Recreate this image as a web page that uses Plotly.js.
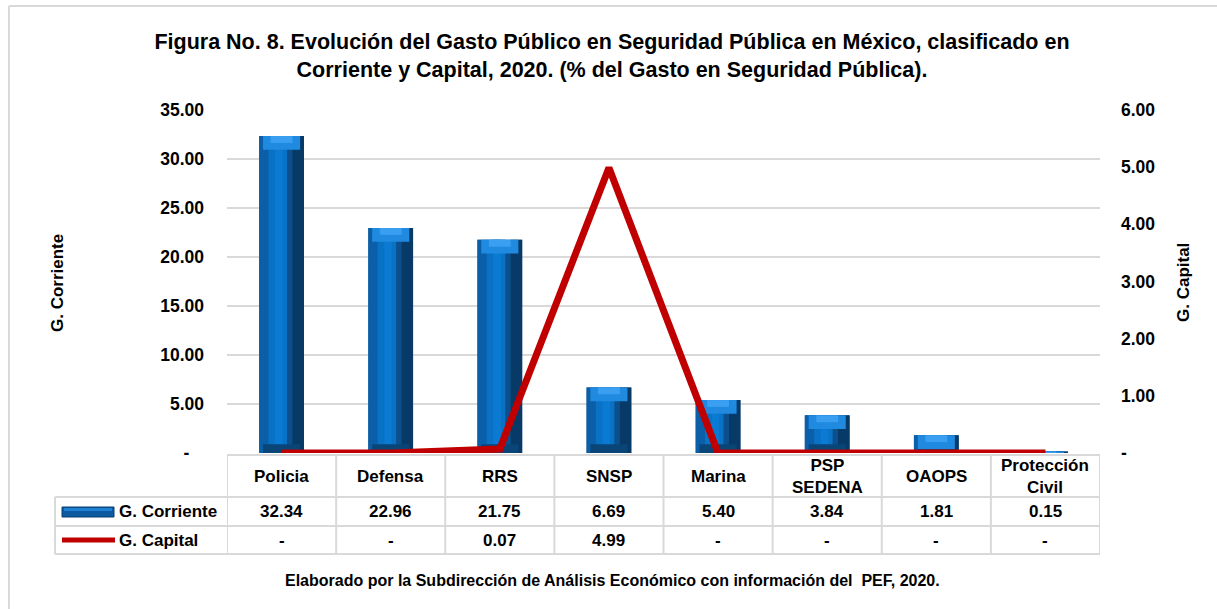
<!DOCTYPE html>
<html>
<head>
<meta charset="utf-8">
<script src="https://cdn.plot.ly/plotly-3.0.1.min.js"></script>
<style>html,body{margin:0;padding:0;background:#fff;}#chart{width:1217px;height:609px;}</style>
</head>
<body>
<div id="chart"></div>
<script>
// ---- Data ----
var categories = ["Policia", "Defensa", "RRS", "SNSP", "Marina", "PSP SEDENA", "OAOPS", "Protección Civil"];
var categoryLabels = ["Policia", "Defensa", "RRS", "SNSP", "Marina", "PSP<br>SEDENA", "OAOPS", "Protección<br>Civil"];
var gCorriente = [32.34, 22.96, 21.75, 6.69, 5.40, 3.84, 1.81, 0.15];
var gCapital = [0, 0, 0.07, 4.99, 0, 0, 0, 0];
var leftTickVals = [0, 5, 10, 15, 20, 25, 30, 35];
var leftTickText = ["-\u00a0\u00a0\u00a0", "5.00", "10.00", "15.00", "20.00", "25.00", "30.00", "35.00"];
var rightTickVals = [0, 1, 2, 3, 4, 5, 6];
var rightTickText = ["-", "1.00", "2.00", "3.00", "4.00", "5.00", "6.00"];

// ---- Layout helpers (pixel -> paper) ----
var L = 227, R = 1100, T = 110, B = 453, W = 1217, H = 609;
function px(x) { return (x - L) / (R - L); }
function py(y) { return (B - y) / (B - T); }
var FONT = "Liberation Sans, Arial, sans-serif";
var grid = "#d9d9d9";

function fmt(v) { return v === 0 ? "-" : v.toFixed(2); }

var bw = 0.41, half = bw / 2;
var traces = [];
function barLayer(color, offset, width, base, vals) {
  var t = {type: "bar", x: categories, y: vals, offset: offset, width: width,
    marker: {color: color, line: {width: 0}}, hoverinfo: "skip", showlegend: false};
  if (base) t.base = base;
  return t;
}
traces.push(barLayer("#0c4f8c", -half, bw, null, gCorriente));
traces.push(barLayer("#0b5fa8", -half, 0.09, null, gCorriente));
traces.push(barLayer("#0a72c4", -0.12, 0.17, null, gCorriente));
traces.push(barLayer("#0a7ad2", -0.06, 0.07, null, gCorriente));
traces.push(barLayer("#073a66", 0.10, 0.105, null, gCorriente));
// bottom shade
var bot = gCorriente.map(function (v) { return Math.min(v, 0.9); });
traces.push(barLayer("#0a4577", -0.17, 0.34, null, bot));
// top bevel highlight
var bev = gCorriente.map(function (v) { return Math.min(v, 1.4); });
var bevBase = gCorriente.map(function (v, i) { return v - bev[i]; });
traces.push(barLayer("#1f8ae0", -0.17, 0.34, bevBase, bev));
var bev2 = gCorriente.map(function (v) { return Math.min(v, 0.7); });
var bev2Base = gCorriente.map(function (v, i) { return v - bev2[i]; });
traces.push(barLayer("#3a9ff0", -0.1, 0.2, bev2Base, bev2));

traces.push({type: "scatter", mode: "lines", x: categories, y: gCapital, yaxis: "y2",
  line: {color: "#C00000", width: 7}, hoverinfo: "skip", showlegend: false});

var shapes = [];
function line(x0, y0, x1, y1, color, width) {
  shapes.push({type: "line", xref: "paper", yref: "paper", x0: x0, y0: y0, x1: x1, y1: y1,
    line: {color: color, width: width}, layer: "above"});
}
// chart border
line(px(9), py(6), px(W + 5), py(6), grid, 2);
line(px(9), py(6), px(9), py(H + 5), grid, 2);
// table
line(px(227), py(455), px(1100), py(455), grid, 2);
[497, 526, 554].forEach(function (y) { line(px(55), py(y), px(1100), py(y), grid, 2); });
line(px(55), py(497), px(55), py(554), grid, 2);
for (var i = 0; i <= categories.length; i++) {
  shapes.push({type: "line", xref: "x", yref: "paper", x0: i - 0.5, x1: i - 0.5, y0: py(455), y1: py(554),
    line: {color: grid, width: 2}, layer: "above"});
}
// legend keys
shapes.push({type: "rect", xref: "paper", yref: "paper", x0: px(62), x1: px(114), y0: py(507), y1: py(517),
  fillcolor: "#0c5aa0", line: {color: "#083f70", width: 1}});
shapes.push({type: "rect", xref: "paper", yref: "paper", x0: px(64), x1: px(112), y0: py(508), y1: py(511),
  fillcolor: "#1f7fd0", line: {width: 0}});
line(px(62), py(540), px(115), py(540), "#C00000", 5);

var annotations = [];
function ann(text, x, y, opts) {
  var a = {text: text, x: x, y: y, xref: "paper", yref: "paper", showarrow: false,
    font: {family: FONT, size: 17, color: "#000", weight: "bold"}, xanchor: "center", yanchor: "middle"};
  for (var k in opts) a[k] = opts[k];
  annotations.push(a);
}
categories.forEach(function (c, i) {
  ann(categoryLabels[i], i, py(476), {xref: "x"});
  ann(fmt(gCorriente[i]), i, py(511), {xref: "x"});
  ann(fmt(gCapital[i]), i, py(540), {xref: "x"});
});
ann("G. Corriente", px(117), py(511), {xanchor: "left"});
ann("G. Capital", px(117), py(540), {xanchor: "left"});
ann("G. Corriente", px(57), py(283), {textangle: -90});
ann("G. Capital", px(1183), py(283), {textangle: -90});
ann("Elaborado por la Subdirección de Análisis Económico con información del  PEF, 2020.", px(612), py(580),
  {font: {family: FONT, size: 16, color: "#000", weight: "bold"}});

var layout = {
  width: W, height: H,
  margin: {l: L, r: W - R, t: T, b: H - B, pad: 0},
  paper_bgcolor: "#fff", plot_bgcolor: "#fff",
  title: {text: "<b>Figura No. 8. Evolución del Gasto Público en Seguridad Pública en México, clasificado en</b><br><b>Corriente y Capital, 2020. (% del Gasto en Seguridad Pública).</b>",
    font: {family: FONT, size: 21.5, color: "#000"}, x: 612 / W, xref: "container", xanchor: "center",
    y: 1 - 49 / H, yref: "container", yanchor: "middle"},
  barmode: "overlay",
  showlegend: false,
  xaxis: {type: "category", range: [-0.5, 7.5], showticklabels: false, showgrid: false, zeroline: false, showline: false, fixedrange: true},
  yaxis: {range: [0, 35], tickvals: leftTickVals, ticktext: leftTickText, showgrid: true, gridcolor: grid, gridwidth: 2,
    zeroline: false, showline: false, ticks: "", ticklabelstandoff: 22,
    tickfont: {family: FONT, size: 17.5, color: "#000", weight: "bold"}},
  yaxis2: {range: [0, 6], overlaying: "y", side: "right", tickvals: rightTickVals, ticktext: rightTickText, showgrid: false,
    zeroline: false, showline: false, ticks: "", ticklabelstandoff: 20,
    tickfont: {family: FONT, size: 17.5, color: "#000", weight: "bold"}},
  shapes: shapes,
  annotations: annotations
};

Plotly.newPlot("chart", traces, layout, {displayModeBar: false, staticPlot: true});
</script>
</body>
</html>
